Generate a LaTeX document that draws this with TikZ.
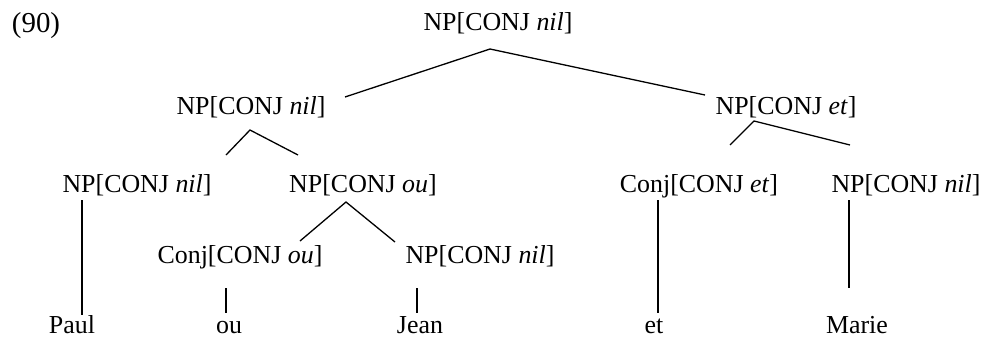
\documentclass[tikz,border=0pt]{standalone}
\usepackage{fontspec}
\setmainfont{Liberation Serif}
\usepackage{tikz}
\usetikzlibrary{positioning}

\tikzset{
  lbl/.style={anchor=base, inner sep=0pt, font=\fontsize{26}{30}\selectfont},
  branch/.style={line width=1.3bp}
}

\begin{document}
\begin{tikzpicture}[x=1bp, y=-1bp]
  \useasboundingbox (0,0) rectangle (984,338);
  % example number
  \node[lbl, font=\fontsize{29}{33}\selectfont] (exnum) at (36,32) {(90)};
  % phrase nodes
  \node[lbl] (top)     at (498,30)  {NP[CONJ \textit{nil}]};
  \node[lbl] (npleft)  at (251,114) {NP[CONJ \textit{nil}]};
  \node[lbl] (npet)    at (786,114) {NP[CONJ \textit{et}]};
  \node[lbl] (nppaul)  at (137,192) {NP[CONJ \textit{nil}]};
  \node[lbl] (npou)    at (363,192) {NP[CONJ \textit{ou}]};
  \node[lbl] (conjet)  at (699,192) {Conj[CONJ \textit{et}]};
  \node[lbl] (npmarie) at (906,192) {NP[CONJ \textit{nil}]};
  \node[lbl] (conjou)  at (240,263) {Conj[CONJ \textit{ou}]};
  \node[lbl] (npjean)  at (480,263) {NP[CONJ \textit{nil}]};
  % words
  \node[lbl] (paul)  at (72,333)  {Paul};
  \node[lbl] (ou)    at (229,333) {ou};
  \node[lbl] (jean)  at (420,333) {Jean};
  \node[lbl] (et)    at (654,333) {et};
  \node[lbl] (marie) at (857,333) {Marie};
  % branches
  \draw[branch] ([shift={(94,-17)}]npleft.base) -- ([shift={(-8,19)}]top.base)
                -- ([shift={(-81,-19)}]npet.base);
  \draw[branch] ([shift={(89,-37)}]nppaul.base) -- ([shift={(-1,16)}]npleft.base)
                -- ([shift={(-65,-37)}]npou.base);
  \draw[branch] ([shift={(31,-47)}]conjet.base) -- ([shift={(-32,7)}]npet.base)
                -- ([shift={(-56,-47)}]npmarie.base);
  \draw[branch] ([shift={(60,-22)}]conjou.base) -- ([shift={(-17,10)}]npou.base)
                -- ([shift={(-85,-21)}]npjean.base);
  % lexical lines
  \draw[branch] ([shift={(-55,8)}]nppaul.base) -- ([shift={(10,-18)}]paul.base);
  \draw[branch] ([shift={(-14,25)}]conjou.base) -- ([shift={(-3,-20)}]ou.base);
  \draw[branch] ([shift={(-63,25)}]npjean.base) -- ([shift={(-3,-20)}]jean.base);
  \draw[branch] ([shift={(-41,8)}]conjet.base) -- ([shift={(4,-20)}]et.base);
  \draw[branch] ([shift={(-57,8)}]npmarie.base) -- ([shift={(-8,-45)}]marie.base);
\end{tikzpicture}
\end{document}
